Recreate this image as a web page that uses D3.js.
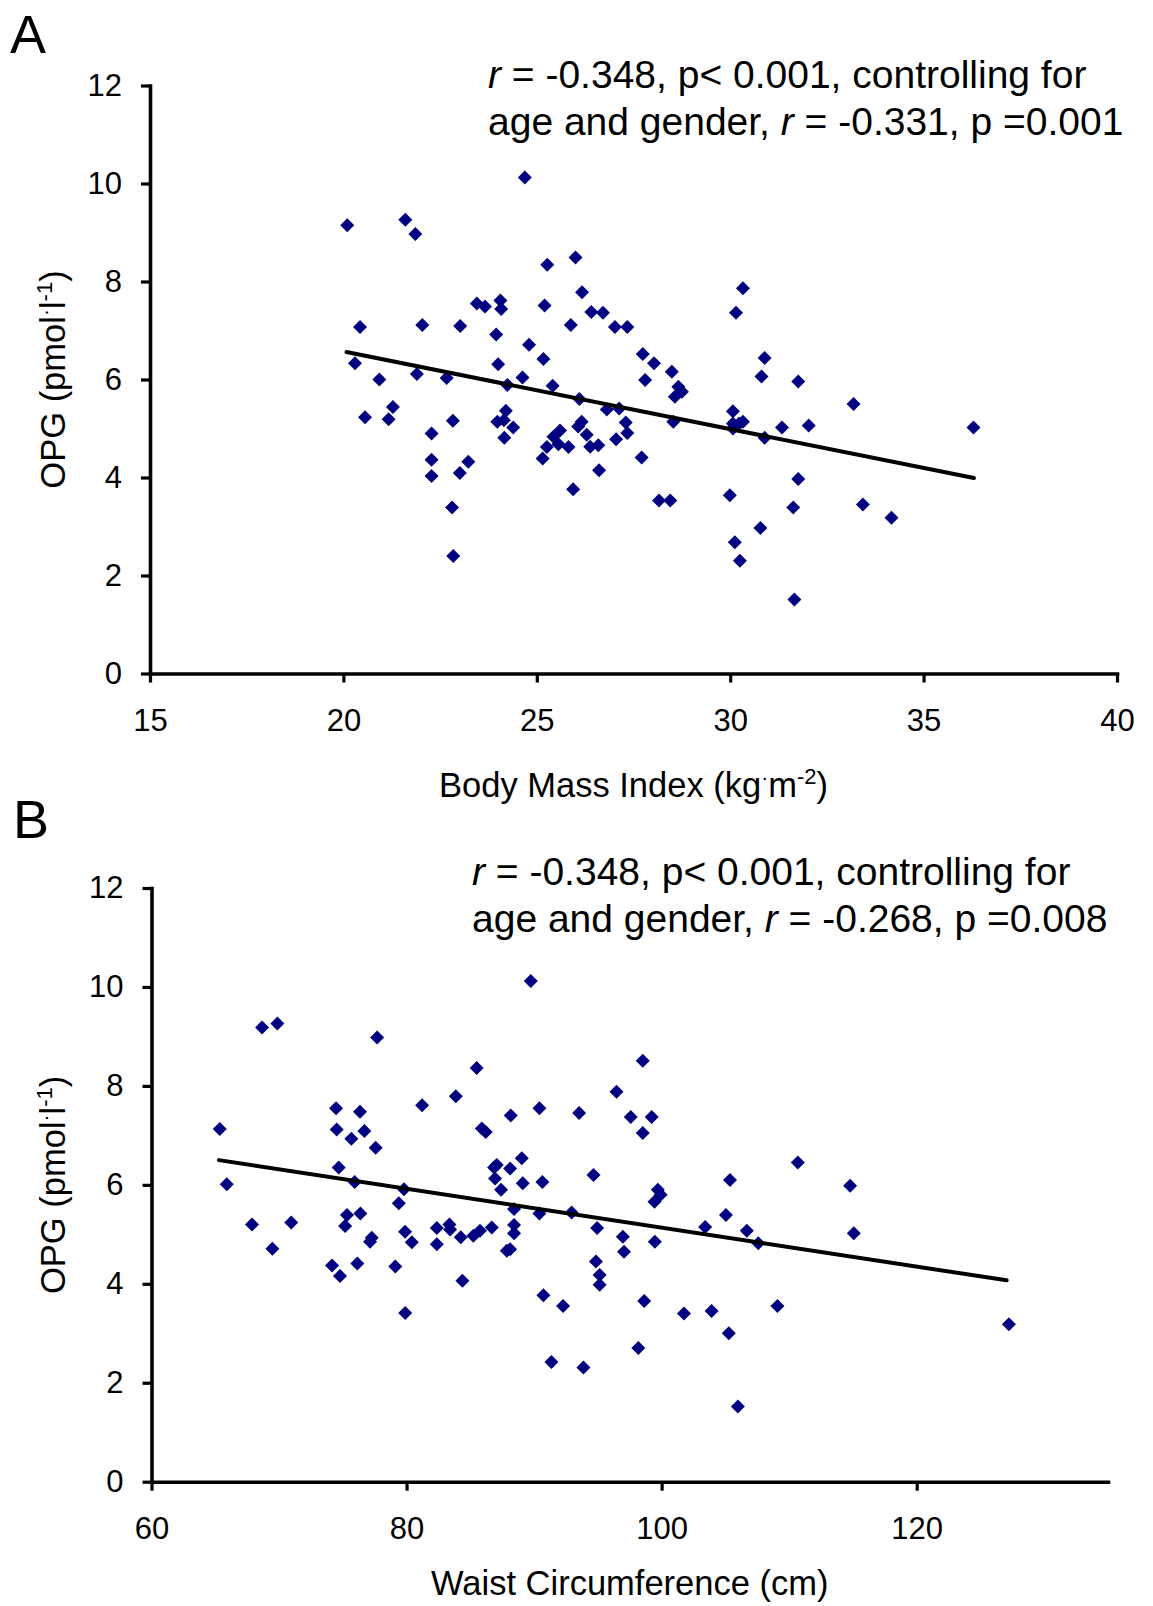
<!DOCTYPE html>
<html><head><meta charset="utf-8">
<script src="https://cdn.jsdelivr.net/npm/d3@7"></script>
<style>body{margin:0;background:#fff} text{font-family:"Liberation Sans",Arial,sans-serif;fill:#000}</style>
</head><body><svg id="c" width="1153" height="1606"></svg>
<script>
const bmiTicks=[15,20,25,30,35,40];
const waistTicks=[60,80,100,120];
const opgTicks=[0,2,4,6,8,10,12];
const bmiOpg=[
[20.1,9.15],[21.6,9.26],[21.86,8.97],[24.69,10.12],
[20.3,6.33],[20.43,7.07],[20.56,5.23],[20.93,6.0],[21.17,5.19],[21.28,5.44],
[21.9,6.11],[22.04,7.11],[22.28,4.9],[22.28,4.36],[22.28,4.03],[22.67,6.03],[22.83,5.16],
[22.81,3.39],[22.84,2.40],[23.02,7.09],[23.01,4.09],[23.23,4.32],[23.45,7.55],[23.66,7.49],
[24.06,7.61],[24.08,7.44],[23.95,6.92],[24.0,6.31],[23.98,5.14],[24.15,5.17],[24.2,5.36],[24.16,4.81],
[24.24,5.89],[24.39,5.02],[24.63,6.04],[24.8,6.71],
[25.15,4.39],[25.26,4.62],[25.17,6.42],[25.2,7.51],[25.27,8.34],[25.43,4.83],[25.41,5.87],[25.6,4.96],[25.56,4.68],[25.82,4.62],
[25.88,7.11],[25.94,3.76],[26.0,8.49],[26.1,5.6],[26.16,5.14],[26.07,5.04],[26.17,7.78],[26.29,4.87],[26.38,4.63],[26.41,7.38],
[26.59,4.66],[26.61,4.15],[26.71,7.36],[26.81,5.39],[27.02,7.07],[27.05,4.78],[27.13,5.41],[27.3,5.12],[27.34,4.91],[27.34,7.07],
[27.71,4.41],[27.74,6.52],[27.8,5.99],[28.03,6.33],[28.16,3.53],[28.45,3.53],[28.49,6.16],[28.53,5.14],[28.57,5.65],[28.66,5.85],[28.75,5.75],
[29.99,3.64],[30.07,5.35],[30.07,5.1],[30.07,5.0],[30.12,2.68],[30.15,7.36],[30.23,5.1],[30.25,2.3],[30.33,7.86],[30.33,5.14],
[30.78,2.97],[30.81,6.06],[30.89,6.44],[30.89,4.81],[31.34,5.02],[31.63,3.39],[31.66,1.51],[31.76,5.96],[31.76,3.97],[32.03,5.06],
[33.19,5.5],[33.43,3.45],[34.17,3.18],[36.29,5.02]
];
const waistOpg=[
[65.35,7.13],[65.9,6.01],[67.88,5.2],[68.67,9.18],[69.48,4.71],[69.87,9.26],[70.96,5.24],
[74.16,4.37],[74.47,7.55],[74.52,7.12],[74.68,6.35],[74.78,4.16],[75.18,5.17],[75.33,5.39],[75.67,6.93],[75.93,6.06],[76.14,4.41],
[76.35,7.48],[76.38,5.42],[76.69,7.09],[77.14,4.85],[77.27,4.93],[77.58,6.75],[77.69,8.98],
[79.12,4.35],[79.39,5.63],[79.8,5.91],[79.89,3.41],[79.88,5.05],[80.41,4.84],[81.22,7.61],
[82.37,5.13],[82.37,4.8],[83.36,5.2],[83.41,5.1],[83.86,7.79],[84.25,4.94],[84.38,4.06],[85.24,4.97],[85.5,8.36],[85.76,5.07],
[85.9,7.14],[86.21,7.07],[86.68,5.14],[86.86,6.35],[87.07,6.4],[86.94,6.13],[87.41,5.9],[87.86,4.67],[88.12,4.7],[88.17,7.4],
[88.12,6.33],[88.43,5.19],[88.43,5.02],[88.43,5.51],[89.03,6.54],[89.11,6.03],[89.74,10.12],[90.42,7.55],[90.42,5.42],[90.65,6.06],
[90.73,3.77],[91.36,2.42],[92.27,3.55],[92.94,5.44],[93.53,7.45],[93.87,2.31],[94.66,6.2],[94.85,4.45],[94.94,5.13],[95.14,4.18],
[95.14,3.98],[96.46,7.88],[96.96,4.95],[97.05,4.65],[97.58,7.37],[98.17,2.7],[98.52,8.51],[98.52,7.05],[98.63,3.65],[99.22,7.37],
[99.47,4.85],[99.44,5.66],[99.7,5.9],[99.92,5.8],[101.75,3.4],[103.41,5.15],[103.92,3.45],[105.04,5.39],[105.27,3.0],[105.36,6.1],
[105.98,1.52],[106.68,5.07],[107.58,4.82],[109.08,3.55],[110.68,6.45],[114.78,5.98],[115.07,5.02],[127.23,3.18]
];
const bmiTrend=[[20.08,6.56],[36.3,3.99]];
const waistTrend=[[65.29,6.5],[127.05,4.07]];
const annotA=["-0.348, p< 0.001, controlling for","age and gender, ","-0.331, p =0.001"];
const annotB=["-0.348, p< 0.001, controlling for","age and gender, ","-0.268, p =0.008"];

const svg=d3.select("#c");

function panel(o){
  const x=d3.scaleLinear().domain(o.xDomain).range(o.xRange);
  const y=d3.scaleLinear().domain([0,12]).range(o.yRange);
  const g=svg.append("g");
  const ax=g.append("g").attr("transform",`translate(0,${o.yRange[0]})`)
    .call(d3.axisBottom(x).tickValues(o.xTicks).tickSize(9).tickSizeOuter(0).tickPadding(26).tickFormat(d3.format("d")));
  const ay=g.append("g").attr("transform",`translate(${o.xRange[0]},0)`)
    .call(d3.axisLeft(y).tickValues(opgTicks).tickSize(9).tickSizeOuter(0).tickPadding(19).tickFormat(d3.format("d")));
  [ax,ay].forEach(a=>{
    a.select(".domain").attr("stroke","#000").attr("stroke-width",3.6).attr("stroke-linecap","square");
    a.selectAll(".tick line").attr("stroke","#000").attr("stroke-width",3.2);
    a.selectAll(".tick text").attr("font-size",31).attr("font-family","'Liberation Sans',Arial,sans-serif").attr("fill","#000");
  });
  const s=7;
  g.append("g").selectAll("path").data(o.data).join("path")
    .attr("d",d=>{const px=x(d[0]),py=y(d[1]);return `M${px},${py-s}L${px+s},${py}L${px},${py+s}L${px-s},${py}Z`;})
    .attr("fill","#000080");
  g.append("path").datum(o.trend)
    .attr("d",d3.line().x(d=>x(d[0])).y(d=>y(d[1])))
    .attr("stroke","#000").attr("stroke-width",4).attr("stroke-linecap","round").attr("fill","none");
  const xt=g.append("text").attr("x",(o.xRange[0]+o.xRange[1])/2).attr("y",o.xTitleY)
    .attr("text-anchor","middle").attr("font-size",34.5);
  o.xTitle(xt);
  const yt=g.append("text").attr("transform",`translate(65,${(o.yRange[0]+o.yRange[1])/2}) rotate(-90)`)
    .attr("text-anchor","middle").attr("font-size",34.5);
  yt.append("tspan").text("OPG (pmol");
  yt.append("tspan").attr("dy",-13).attr("font-size",21).text("·");
  yt.append("tspan").attr("dy",13).text("l");
  yt.append("tspan").attr("dy",-13).attr("font-size",22).text("-1");
  yt.append("tspan").attr("dy",13).text(")");
  g.append("text").attr("x",o.letterX).attr("y",o.letterY).attr("font-size",54).text(o.letter);
  const t1=g.append("text").attr("x",o.annX).attr("y",o.annY).attr("font-size",39);
  t1.append("tspan").attr("font-style","italic").text("r");
  t1.append("tspan").text(" = "+o.annot[0]);
  const t2=g.append("text").attr("x",o.annX).attr("y",o.annY+47).attr("font-size",39);
  t2.append("tspan").text(o.annot[1]);
  t2.append("tspan").attr("font-style","italic").text("r");
  t2.append("tspan").text(" = "+o.annot[2]);
}

panel({xDomain:[15,40],xRange:[150,1117],yRange:[673.5,85.5],xTicks:bmiTicks,data:bmiOpg,trend:bmiTrend,
  xTitleY:797,letter:"A",letterX:10,letterY:53,annX:488,annY:88,annot:annotA,
  xTitle:t=>{t.append("tspan").text("Body Mass Index (kg");t.append("tspan").attr("dy",-13).attr("font-size",21).text("·");
    t.append("tspan").attr("dy",13).text("m");t.append("tspan").attr("dy",-13).attr("font-size",22).text("-2");
    t.append("tspan").attr("dy",13).text(")");}});
panel({xDomain:[60,135],xRange:[151.5,1108],yRange:[1481.7,888],xTicks:waistTicks,data:waistOpg,trend:waistTrend,
  xTitleY:1595,letter:"B",letterX:13,letterY:838,annX:472,annY:885,annot:annotB,
  xTitle:t=>{t.text("Waist Circumference (cm)");}});
</script></body></html>
